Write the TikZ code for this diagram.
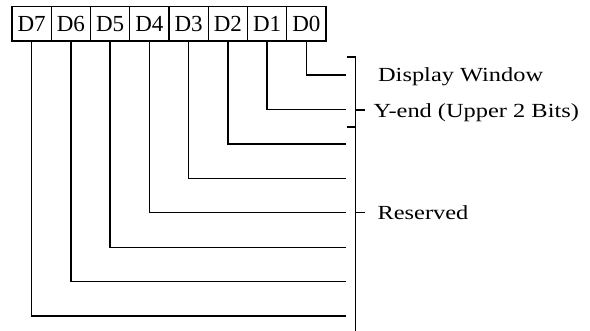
\documentclass[tikz,border=0pt]{standalone}
\usepackage{fontspec}
\setmainfont{Liberation Serif}
\newfontfamily\lblfont[FakeStretch=1.22]{Liberation Serif}
\usetikzlibrary{calc}

\tikzset{
  bitbox/.style={draw, rectangle, minimum width=39.25pt, minimum height=34.5pt, inner sep=0pt, font=\fontsize{23}{23}\selectfont},
  lbl/.style={anchor=base west, inner sep=0pt, font=\lblfont\fontsize{20}{20}\selectfont}
}

\begin{document}
\begin{tikzpicture}[x=1pt, y=-1pt, line width=1.25pt]
        \useasboundingbox (0,0) rectangle (590,331);
        % ビットの枠
        \node[bitbox] (D7) at (31.6,23.75) {D7};
        \node[bitbox] (D6) at (70.9,23.75) {D6};
        \node[bitbox] (D5) at (110.1,23.75) {D5};
        \node[bitbox] (D4) at (149.4,23.75) {D4};
        \node[bitbox] (D3) at (188.6,23.75) {D3};
        \node[bitbox] (D2) at (227.9,23.75) {D2};
        \node[bitbox] (D1) at (267.1,23.75) {D1};
        \node[bitbox] (D0) at (306.4,23.75) {D0};
        % 線の右端
        \coordinate (E0) at (346,75);
        \coordinate (E1) at (346,109.4);
        \coordinate (E2) at (346,143.9);
        \coordinate (E3) at (346,178.3);
        \coordinate (E4) at (346,212.7);
        \coordinate (E5) at (346,247.2);
        \coordinate (E6) at (346,281.6);
        \coordinate (E7) at (346,316);
        % ビットから引き出す線
        \draw (D0.south) |- (E0);
        \draw (D1.south) |- (E1);
        \draw (D2.south) |- (E2);
        \draw (D3.south) |- (E3);
        \draw (D4.south) |- (E4);
        \draw (D5.south) |- (E5);
        \draw (D6.south) |- (E6);
        \draw (D7.south) |- (E7);
        % 括弧
        \coordinate (BT) at (355.5,57);
        \coordinate (BB) at (355.5,331);
        \coordinate (BS) at (355.5,127);
        \coordinate (TY) at (355.5,110);
        \coordinate (TR) at (355.5,212.7);
        \draw (BT) -- (BB);
        \draw ($(BT)+(-8.5,0)$) -- (BT);
        \draw ($(BS)+(-8.5,0)$) -- (BS);
        \draw (TY) -- ($(TY)+(9.5,0)$);
        \draw (TR) -- ($(TR)+(9.5,0)$);
        % ラベル
        \node[lbl] (Disp) at (377.5,81.3) {Display Window};
        \node[lbl] (Yend) at (373,117.5) {Y-end (Upper 2 Bits)};
        \node[lbl] (Resv) at (377,219.5) {Reserved};
\end{tikzpicture}
\end{document}
